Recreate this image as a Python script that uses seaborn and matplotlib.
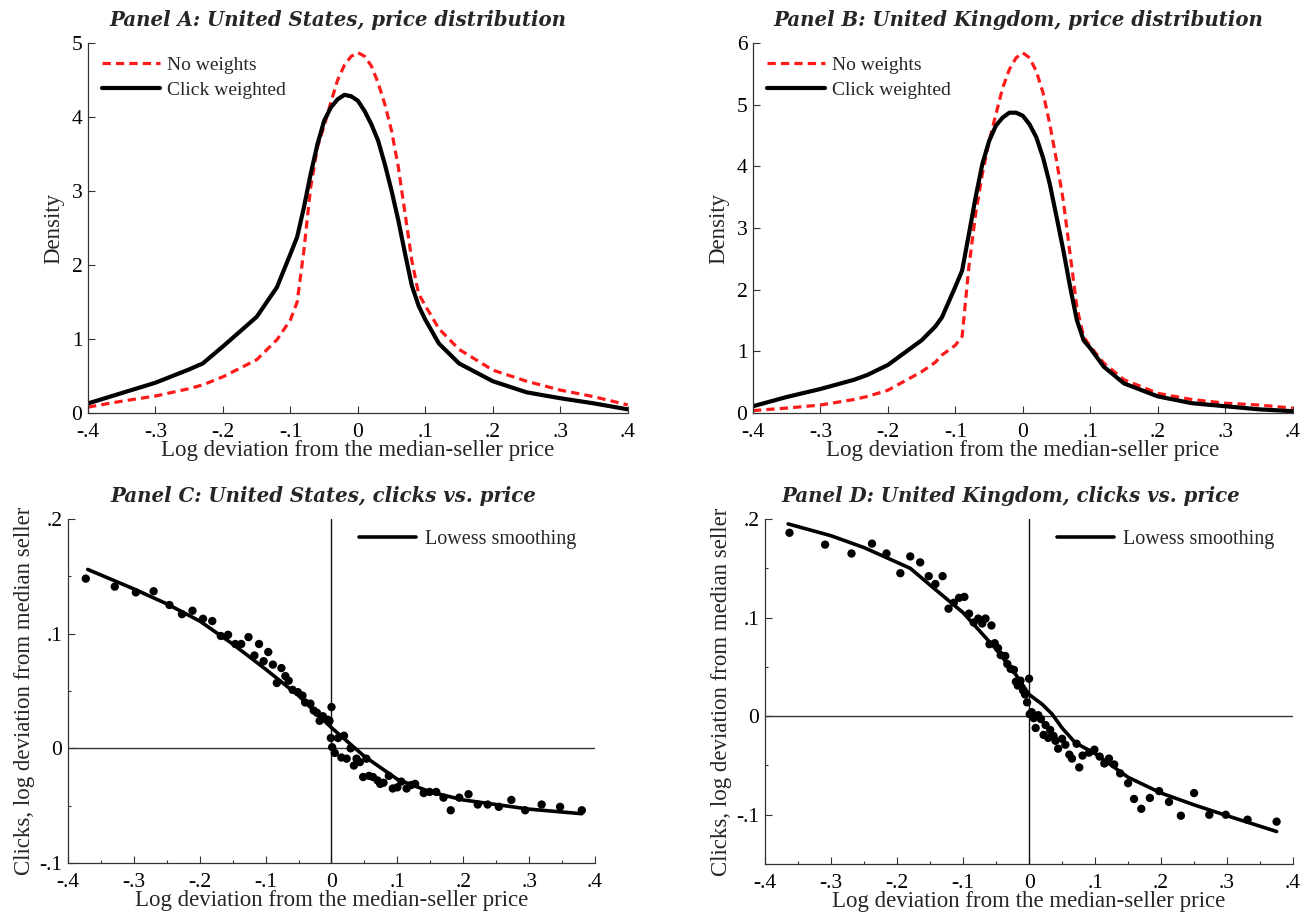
import numpy as np
import pandas as pd
import matplotlib
matplotlib.use("Agg")
import matplotlib.pyplot as plt
from matplotlib.ticker import FuncFormatter, MultipleLocator
import seaborn as sns

# ---- Panel A: US price distribution ----
us_x = [-0.4, -0.35, -0.3, -0.25, -0.23, -0.2, -0.15, -0.12, -0.1, -0.09, -0.08, -0.07,
        -0.06, -0.05, -0.04, -0.03, -0.02, -0.01, 0.0, 0.01, 0.02, 0.03, 0.04, 0.05,
        0.06, 0.07, 0.08, 0.09, 0.1, 0.12, 0.15, 0.2, 0.25, 0.3, 0.35, 0.4]
us_noweight = [0.08, 0.16, 0.23, 0.33, 0.38, 0.49, 0.72, 0.99, 1.26, 1.50, 2.2, 3.05,
               3.59, 3.88, 4.2, 4.5, 4.7, 4.82, 4.87, 4.82, 4.69, 4.46, 4.17, 3.81,
               3.32, 2.69, 2.06, 1.61, 1.45, 1.14, 0.86, 0.58, 0.43, 0.31, 0.22, 0.11]
us_click = [0.13, 0.27, 0.41, 0.59, 0.67, 0.90, 1.30, 1.70, 2.15, 2.38, 2.78, 3.23,
            3.63, 3.95, 4.13, 4.24, 4.30, 4.28, 4.22, 4.08, 3.90, 3.68, 3.36, 3.0,
            2.6, 2.15, 1.72, 1.45, 1.26, 0.94, 0.67, 0.43, 0.28, 0.20, 0.13, 0.05]

# ---- Panel B: UK price distribution ----
uk_x = [-0.4, -0.35, -0.3, -0.25, -0.23, -0.2, -0.15, -0.13, -0.12, -0.1, -0.09, -0.08,
        -0.07, -0.06, -0.05, -0.04, -0.03, -0.02, -0.01, 0.0, 0.01, 0.02, 0.03, 0.04,
        0.05, 0.06, 0.07, 0.08, 0.09, 0.1, 0.12, 0.15, 0.2, 0.25, 0.3, 0.35, 0.4]
uk_noweight = [0.04, 0.08, 0.13, 0.22, 0.27, 0.37, 0.67, 0.82, 0.94, 1.1, 1.24, 2.37,
               3.23, 3.88, 4.41, 4.84, 5.27, 5.57, 5.76, 5.84, 5.76, 5.54, 5.19, 4.68,
               4.09, 3.44, 2.58, 1.72, 1.24, 1.08, 0.81, 0.54, 0.32, 0.22, 0.16, 0.13, 0.08]
uk_click = [0.11, 0.26, 0.39, 0.54, 0.62, 0.78, 1.18, 1.40, 1.55, 2.05, 2.31, 2.9,
            3.5, 4.04, 4.41, 4.66, 4.79, 4.87, 4.87, 4.82, 4.68, 4.47, 4.14, 3.71,
            3.18, 2.64, 2.05, 1.51, 1.18, 1.05, 0.75, 0.48, 0.27, 0.16, 0.11, 0.06, 0.03]

# ---- Panel C: US clicks vs price ----
us_px = [-0.373, -0.329, -0.297, -0.270, -0.246, -0.227, -0.211, -0.195, -0.181, -0.168,
         -0.157, -0.146, -0.137, -0.126, -0.117, -0.110, -0.103, -0.096, -0.089, -0.083,
         -0.076, -0.070, -0.065, -0.059, -0.051, -0.044, -0.040, -0.032, -0.027, -0.022,
         -0.018, -0.013, -0.006, -0.003, 0.000, -0.001, 0.001, 0.005, 0.010, 0.015,
         0.019, 0.023, 0.029, 0.034, 0.038, 0.043, 0.048, 0.053, 0.057, 0.063,
         0.070, 0.074, 0.079, 0.087, 0.093, 0.100, 0.106, 0.114, 0.121, 0.127,
         0.140, 0.149, 0.159, 0.170, 0.181, 0.194, 0.208, 0.222, 0.237, 0.254,
         0.273, 0.294, 0.319, 0.347, 0.380]
us_py = [0.148, 0.141, 0.136, 0.137, 0.125, 0.117, 0.120, 0.113, 0.111, 0.098,
         0.099, 0.091, 0.091, 0.097, 0.081, 0.091, 0.076, 0.084, 0.073, 0.057,
         0.070, 0.063, 0.059, 0.051, 0.049, 0.046, 0.040, 0.039, 0.033, 0.031,
         0.024, 0.028, 0.025, 0.024, 0.036, 0.009, 0.001, -0.004, 0.009, -0.008,
         0.011, -0.009, 0.000, -0.015, -0.009, -0.012, -0.025, -0.009, -0.024, -0.025,
         -0.028, -0.031, -0.030, -0.024, -0.035, -0.034, -0.029, -0.035, -0.032, -0.031,
         -0.039, -0.038, -0.038, -0.043, -0.054, -0.043, -0.040, -0.049, -0.049, -0.051,
         -0.045, -0.054, -0.049, -0.051, -0.054]
us_lx = [-0.37, -0.3, -0.25, -0.2, -0.15, -0.1, -0.05, -0.02, 0.0, 0.02, 0.05, 0.08,
         0.1, 0.15, 0.2, 0.25, 0.3, 0.38]
us_ly = [0.156, 0.139, 0.126, 0.111, 0.091, 0.069, 0.046, 0.029, 0.018, 0.008, -0.007,
         -0.019, -0.027, -0.038, -0.045, -0.049, -0.053, -0.057]

# ---- Panel D: UK clicks vs price ----
uk_px = [-0.363, -0.309, -0.269, -0.238, -0.216, -0.195, -0.180, -0.165, -0.152, -0.142,
         -0.131, -0.122, -0.114, -0.106, -0.098, -0.091, -0.084, -0.077, -0.071, -0.066,
         -0.057, -0.060, -0.052, -0.047, -0.043, -0.036, -0.033, -0.028, -0.023, -0.020,
         -0.017, -0.013, -0.009, -0.006, -0.003, 0.000, 0.001, 0.004, 0.007, 0.010,
         0.014, 0.018, 0.022, 0.025, 0.029, 0.032, 0.037, 0.040, 0.044, 0.050,
         0.055, 0.061, 0.065, 0.072, 0.076, 0.081, 0.091, 0.099, 0.107, 0.114,
         0.121, 0.129, 0.138, 0.150, 0.159, 0.170, 0.183, 0.197, 0.212, 0.230,
         0.250, 0.273, 0.298, 0.331, 0.375]
uk_py = [0.186, 0.174, 0.165, 0.175, 0.165, 0.145, 0.162, 0.156, 0.142, 0.134,
         0.142, 0.109, 0.115, 0.120, 0.121, 0.104, 0.095, 0.099, 0.094, 0.099,
         0.092, 0.073, 0.074, 0.069, 0.062, 0.061, 0.053, 0.048, 0.047, 0.035,
         0.031, 0.036, 0.026, 0.022, 0.014, 0.038, 0.002, 0.004, -0.002, -0.012,
         0.001, -0.003, -0.019, -0.009, -0.022, -0.014, -0.020, -0.025, -0.033, -0.023,
         -0.029, -0.039, -0.043, -0.028, -0.052, -0.040, -0.037, -0.034, -0.041, -0.048,
         -0.043, -0.049, -0.058, -0.068, -0.084, -0.094, -0.083, -0.076, -0.087, -0.101,
         -0.078, -0.100, -0.100, -0.105, -0.107]
uk_lx = [-0.365, -0.3, -0.25, -0.2, -0.18, -0.15, -0.1, -0.05, -0.02, 0.0, 0.02, 0.035,
         0.05, 0.07, 0.1, 0.15, 0.2, 0.25, 0.3, 0.375]
uk_ly = [0.195, 0.183, 0.171, 0.156, 0.150, 0.133, 0.105, 0.068, 0.042, 0.022, 0.012,
         0.002, -0.012, -0.027, -0.038, -0.062, -0.078, -0.090, -0.101, -0.117]

sns.set_style("ticks")
plt.rcParams["font.family"] = ["Liberation Serif", "DejaVu Serif"]
plt.rcParams["axes.edgecolor"] = "#333333"
plt.rcParams["axes.linewidth"] = 0.9

XLABEL = "Log deviation from the median-seller price"
TITLE_KW = dict(fontsize=14.2, fontweight="bold", fontstyle="italic", pad=12,
                family=["DejaVu Serif"])


def nozero(v, pos=None):
    if abs(v) < 1e-9:
        return "0"
    s = f"{v:g}"
    return s.replace("0.", ".")


def style_axes(ax, xlim, ylim):
    ax.set_xlim(*xlim)
    ax.set_ylim(*ylim)
    sns.despine(ax=ax)
    ax.xaxis.set_major_locator(MultipleLocator(0.1))
    ax.xaxis.set_major_formatter(FuncFormatter(nozero))
    ax.tick_params(axis="both", which="major", direction="in", length=5,
                   width=0.8, labelsize=15.5, colors="#333333", labelcolor="black")
    ax.tick_params(axis="x", which="major", pad=7)
    ax.tick_params(axis="y", which="major", pad=4)
    ax.tick_params(axis="both", which="minor", direction="in", length=2.5,
                   width=0.8, colors="#333333")
    ax.set_xlabel(XLABEL, fontsize=16.5, labelpad=-1)


fig = plt.figure(figsize=(13.1, 9.15), dpi=100)
axA = fig.add_axes([0.0672, 0.5486, 0.412, 0.4044])
axB = fig.add_axes([0.5748, 0.5486, 0.412, 0.4044])
axC = fig.add_axes([0.0519, 0.0568, 0.4023, 0.376])
axD = fig.add_axes([0.584, 0.0557, 0.4031, 0.3771])

# density panels
for ax, xs, nw, cw, ymax, title, tx in [
    (axA, us_x, us_noweight, us_click, 5, "Panel A: United States, price distribution", 0.463),
    (axB, uk_x, uk_noweight, uk_click, 6, "Panel B: United Kingdom, price distribution", 0.491),
]:
    sns.lineplot(x=xs, y=nw, ax=ax, color="#ff1a1a", linewidth=2.3,
                 linestyle=(0, (2.6, 1.6)), label="No weights")
    sns.lineplot(x=xs, y=cw, ax=ax, color="black", linewidth=3.0,
                 label="Click weighted")
    style_axes(ax, (-0.4, 0.4), (0, ymax))
    ax.yaxis.set_major_locator(MultipleLocator(1))
    ax.set_ylabel("Density", fontsize=16.5, labelpad=5)
    ax.set_title(title, x=tx, **TITLE_KW)
    ax.legend(loc="upper left", frameon=False, fontsize=14, handlelength=3.0,
              handletextpad=0.35, borderaxespad=0.3, labelspacing=0.35,
              bbox_to_anchor=(0.0, 1.0))

# clicks panels
for ax, px, py, lx, ly, ylim, title, tx in [
    (axC, us_px, us_py, us_lx, us_ly, (-0.1, 0.2), "Panel C: United States, clicks vs. price", 0.484),
    (axD, uk_px, uk_py, uk_lx, uk_ly, (-0.15, 0.2), "Panel D: United Kingdom, clicks vs. price", 0.466),
]:
    ax.axhline(0, color="#333333", linewidth=1.0, zorder=1)
    ax.axvline(0, color="#111111", linewidth=1.0, zorder=1)
    sns.scatterplot(x=px, y=py, ax=ax, color="black", s=36, edgecolor="none", zorder=3)
    sns.lineplot(x=lx, y=ly, ax=ax, color="black", linewidth=2.6,
                 label="Lowess smoothing", zorder=4)
    style_axes(ax, (-0.4, 0.4), ylim)
    ax.xaxis.set_minor_locator(MultipleLocator(0.05))
    ax.yaxis.set_major_locator(MultipleLocator(0.1))
    ax.yaxis.set_minor_locator(MultipleLocator(0.05))
    ax.yaxis.set_major_formatter(FuncFormatter(nozero))
    ax.set_ylabel("Clicks, log deviation from median seller", fontsize=16.5, labelpad=3)
    ax.set_title(title, x=tx, **TITLE_KW)
    ax.legend(loc="upper right", frameon=False, fontsize=14.5, handlelength=2.8,
              handletextpad=0.45, borderaxespad=0.15,
              bbox_to_anchor=(0.985, 1.0))

fig.savefig("out.png", dpi=100)
